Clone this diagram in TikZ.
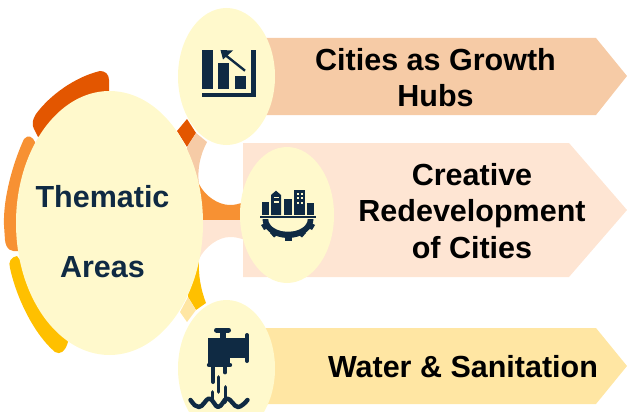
\documentclass[tikz,border=0pt]{standalone}
\usepackage{fontspec}
\setmainfont{Liberation Sans}
\definecolor{cream}{HTML}{FFF9CC}
\definecolor{navy}{HTML}{0F2A43}
\definecolor{darkor}{HTML}{E35600}
\definecolor{midor}{HTML}{F79133}
\definecolor{yel}{HTML}{FFC000}
\definecolor{peach}{HTML}{F6CBA6}
\definecolor{palep}{HTML}{FEE5D3}
\definecolor{paley}{HTML}{FFE6A3}
\tikzset{
 lab/.style={font=\bfseries\fontsize{30.5}{36.8}\selectfont,text=black,align=center,inner sep=0pt},
 leftlab/.style={lab,text=navy},
 ico/.style={fill=navy,draw=none},
 wind/.style={fill=cream,draw=none},
}
\begin{document}
\begin{tikzpicture}[x=1pt,y=-1pt,line join=round]
\useasboundingbox (0,0) rectangle (627,412);
% ribbons
\fill[peach] (250,38) -- (596,38) -- (627,76) -- (596,115) -- (250,115) -- cycle;
\fill[palep] (243,143) -- (569,143) -- (627,210) -- (569,277) -- (243,277) -- cycle;
\fill[paley] (250,328) -- (596,328) -- (627,366) -- (596,404) -- (250,404) -- cycle;
% connectors
\fill[darkor] (177,131) -- (187,119) -- (196,133) -- (187,147) -- cycle;
\fill[peach] (187,147) -- (196,133) -- (207,142) .. controls (200,155) and (197,170) .. (199,184) -- (190,184) -- cycle;
\fill[midor] (190,175) -- (199,184) .. controls (205,196) and (218,205) .. (230,205) .. controls (235,205) and (238,204) .. (245,202) -- (245,220) -- (190,220) -- cycle;
\fill[palep] (190,220) -- (245,220) -- (245,240) .. controls (240,238) and (235,237) .. (230,237) .. controls (218,237) and (205,247) .. (199,259) -- (190,259) -- cycle;
\fill[yel] (190,255) -- (199,259) .. controls (198,275) and (201,290) .. (206,303) -- (196,310) -- (188,297) -- cycle;
\fill[paley] (180,312) -- (188,297) -- (196,310) -- (187,322) -- cycle;
% outer arcs
\fill[darkor] (109,95) -- (109,80) .. controls (109,74) and (105,71) .. (100,71) .. controls (75,77) and (50,95) .. (36,114) .. controls (32,120) and (32,125) .. (34,129) -- (38,137) -- (60,125) -- cycle;
\fill[midor] (35,142) .. controls (33,137) and (28,134) .. (24,139) .. controls (12,165) and (3,200) .. (4,225) -- (5,240) .. controls (6,250) and (12,252) .. (18,251) -- (40,200) -- cycle;
\fill[yel] (17,256) .. controls (11,257) and (8,262) .. (10,268) .. controls (17,300) and (35,335) .. (55,352) .. controls (60,355) and (65,352) .. (68,342) -- (50,300) -- cycle;
% bubbles
\fill[cream] (109.5,223) ellipse (93.5 and 132);
\fill[cream] (226.5,76.5) ellipse (48.5 and 68.5);
\fill[cream] (287,215) ellipse (47 and 68);
\fill[cream] (226.5,368.5) ellipse (48.5 and 68.5);
% labels
\node[leftlab] (t1) at (102.5,197) {Thematic};
\node[leftlab] (t2) at (102.5,267) {Areas};
\node[lab] (a) at (435.5,77.5) {Cities as Growth\\Hubs};
\node[lab] (b) at (472,211) {Creative\\Redevelopment\\of Cities};
\node[lab] (c) at (463,367) {Water \& Sanitation};
% chart icon
\fill[ico] (201.7,50) rectangle (212.7,89.3);
\fill[ico] (217.7,63.3) rectangle (229.3,89.3);
\fill[ico] (235,76) rectangle (246,89.3);
\fill[ico] (251,50) rectangle (255.7,97.3);
\fill[ico] (201.7,93.3) rectangle (255.7,97.3);
\draw[navy,line width=2.4pt] (245,70.7) -- (224,54);
\fill[ico] (220.5,50) -- (233,50.5) -- (223,59.5) -- cycle;
% city icon
\fill[ico] (262.3,202.3) rectangle (269.3,215);
\fill[ico] (271,215) -- (271,195) -- (276,190.7) -- (281,195) -- (281,215) -- cycle;
\fill[ico] (283.7,199.3) rectangle (292,215);
\fill[ico] (294.3,190) rectangle (305,215);
\fill[ico] (306.7,203.3) rectangle (313.7,215);
\fill[wind] (274,197) rectangle (278.5,198.3);
\fill[wind] (274,201) rectangle (278.5,202.5);
\foreach \wy in {192.5,197,201.5}{\fill[wind] (297,\wy) rectangle (299,\wy+2);\fill[wind] (301,\wy) rectangle (303,\wy+2);}
\fill[ico] (260.3,216.3) rectangle (316,218.3);
\begin{scope}
\clip (255,219.5) rectangle (320,245);
\fill[ico] (288,219) ellipse (25.5 and 19);
\fill[wind] (288,219) ellipse (19.7 and 12.7);
\end{scope}
\fill[ico] (284.5,234) rectangle (291.5,240.5);
\fill[ico] (270,233) -- (274,230) -- (278,234.5) -- (274,237.5) -- cycle;
\fill[ico] (302,230) -- (306,233) -- (302,237.5) -- (298,234.5) -- cycle;
\fill[ico] (261,225) -- (266,222.5) -- (268,228) -- (264,230) -- cycle;
\fill[ico] (315,225) -- (310,222.5) -- (308,228) -- (312,230) -- cycle;
% tap icon
\draw[navy,line width=5pt,line cap=round] (216.5,330) -- (228.5,330);
\fill[ico] (220,332) rectangle (226,339);
\fill[ico] (208,338) rectangle (230,364);
\fill[ico] (229,338) rectangle (246,358);
\draw[navy,line width=4pt,line cap=round] (247,335) -- (247,361);
\draw[navy,line width=4.4pt,line cap=round] (209,365) -- (230,365);
\draw[navy,line width=4pt,line cap=round] (213,367) -- (213,382);
\draw[navy,line width=3.6pt,line cap=round] (218.5,377) -- (218.5,392);
\draw[navy,line width=3.8pt,line cap=round] (225.5,387) -- (225.5,402);
\draw[navy,line width=3.8pt,line cap=round] (225,367) -- (225,372.5);
\draw[navy,line width=3.6pt,line cap=round] (212.5,392) -- (212.5,400);
\draw[navy,line width=4.4pt,line cap=round] (190.5,400) .. controls (194,405) and (196,407) .. (199,407) .. controls (203,407) and (206,398.5) .. (209,398.5) .. controls (213,398.5) and (215,407) .. (218,407) .. controls (222,407) and (224,398.5) .. (227,398.5) .. controls (231,398.5) and (234,407) .. (238,407) .. controls (241,407) and (245,403) .. (247.5,400);
\end{tikzpicture}
\end{document}
